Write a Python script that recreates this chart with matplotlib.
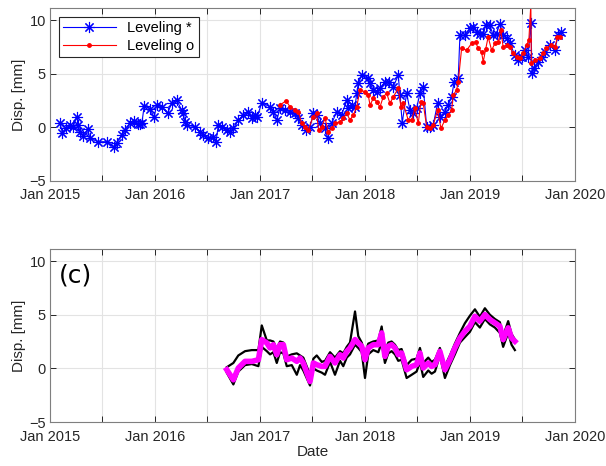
import datetime as dt

import matplotlib
matplotlib.use("Agg")
import matplotlib.dates as mdates
import matplotlib.pyplot as plt
from matplotlib.ticker import FuncFormatter

# leveling time series (decimal years, displacement in mm)
lev_star_t = [
    2015.095, 2015.117, 2015.152, 2015.190, 2015.219, 2015.254, 2015.270, 2015.286,
    2015.317, 2015.359, 2015.381, 2015.454, 2015.540, 2015.610, 2015.635, 2015.683,
    2015.714, 2015.762, 2015.803, 2015.838, 2015.857, 2015.876, 2015.898, 2015.952,
    2015.993, 2016.016, 2016.064, 2016.121, 2016.159, 2016.207, 2016.254, 2016.270,
    2016.286, 2016.302, 2016.381, 2016.429, 2016.460, 2016.508, 2016.555, 2016.581,
    2016.603, 2016.635, 2016.683, 2016.714, 2016.746, 2016.793, 2016.841, 2016.889,
    2016.921, 2016.952, 2016.974, 2017.016, 2017.095, 2017.127, 2017.159, 2017.190,
    2017.238, 2017.286, 2017.333, 2017.365, 2017.397, 2017.438, 2017.476, 2017.508,
    2017.540, 2017.571, 2017.619, 2017.645, 2017.683, 2017.730, 2017.778, 2017.826,
    2017.841, 2017.873, 2017.905, 2017.921, 2017.936, 2017.969, 2018.031, 2018.048,
    2018.079, 2018.111, 2018.143, 2018.190, 2018.229, 2018.270, 2018.317, 2018.333,
    2018.355, 2018.397, 2018.429, 2018.460, 2018.492, 2018.524, 2018.555, 2018.588,
    2018.619, 2018.650, 2018.692, 2018.714, 2018.762, 2018.793, 2018.826, 2018.850,
    2018.889, 2018.905, 2018.952, 2019.000, 2019.031, 2019.064, 2019.095, 2019.127,
    2019.152, 2019.190, 2019.222, 2019.254, 2019.286, 2019.317, 2019.350, 2019.381,
    2019.429, 2019.460, 2019.492, 2019.524, 2019.555, 2019.581, 2019.593, 2019.612,
    2019.650, 2019.683, 2019.714, 2019.762, 2019.810, 2019.841, 2019.873,
]
lev_star_d = [
    0.43, -0.50, -0.10, 0.20, 0.00, 1.00, 0.20, -0.40,
    -0.80, -0.20, -1.00, -1.35, -1.35, -1.86, -1.50, -0.70,
    -0.25, 0.37, 0.58, 0.30, 0.30, 0.40, 2.00, 1.75,
    0.93, 2.08, 1.90, 1.30, 2.24, 2.54, 1.60, 1.30,
    0.50, 0.20, 0.05, -0.40, -0.70, -1.00, -0.90, -1.34,
    0.20, 0.05, -0.25, -0.40, -0.10, 0.68, 1.15, 1.45,
    0.84, 1.15, 1.00, 2.30, 1.90, 1.45, 0.68, 1.77,
    1.60, 1.45, 1.30, 0.84, 0.20, -0.25, 0.05, 1.30,
    1.15, 0.37, -0.10, -1.03, 0.37, 1.45, 1.15, 2.54,
    1.77, 2.08, 1.90, 3.17, 4.10, 4.87, 4.57, 4.10,
    3.48, 3.32, 3.63, 4.25, 4.25, 3.78, 4.87, 3.00,
    0.43, 3.17, 1.60, 1.30, 1.77, 3.17, 3.78, 0.05,
    0.05, 0.20, 2.24, 1.00, 1.45, 2.08, 2.85, 4.25,
    4.57, 8.60, 8.60, 9.23, 9.38, 8.91, 8.76, 8.76,
    9.53, 9.53, 8.60, 8.76, 9.69, 8.60, 8.30, 7.83,
    6.74, 6.27, 6.58, 7.20, 6.58, 9.75, 5.03, 5.50,
    6.11, 6.58, 7.05, 7.67, 7.20, 8.60, 8.91,
]

lev_dot_t = [
    2017.190, 2017.248, 2017.286, 2017.333, 2017.365, 2017.397, 2017.429, 2017.460,
    2017.505, 2017.538, 2017.559, 2017.588, 2017.619, 2017.650, 2017.683, 2017.714,
    2017.762, 2017.793, 2017.826, 2017.857, 2017.889, 2017.921, 2017.952, 2018.000,
    2018.031, 2018.048, 2018.079, 2018.111, 2018.143, 2018.174, 2018.207, 2018.238,
    2018.270, 2018.317, 2018.343, 2018.365, 2018.412, 2018.445, 2018.476, 2018.508,
    2018.533, 2018.555, 2018.588, 2018.619, 2018.650, 2018.692, 2018.724, 2018.762,
    2018.793, 2018.826, 2018.841, 2018.873, 2018.889, 2018.921, 2018.969, 2019.016,
    2019.054, 2019.079, 2019.111, 2019.127, 2019.150, 2019.174, 2019.207, 2019.238,
    2019.270, 2019.295, 2019.317, 2019.350, 2019.381, 2019.412, 2019.445, 2019.476,
    2019.508, 2019.540, 2019.562, 2019.581, 2019.586, 2019.619, 2019.667, 2019.698,
    2019.730, 2019.771, 2019.810, 2019.835, 2019.857,
]
lev_dot_d = [
    2.08, 2.48, 1.90, 1.60, 1.45, 0.37, 0.05, -0.25,
    1.00, 1.30, -0.30, 0.05, 0.84, -0.40, -0.10, 0.37,
    0.52, 0.84, 1.30, 0.68, 1.15, 1.90, 3.48, 3.32,
    3.00, 2.08, 2.70, 2.39, 1.90, 2.85, 3.17, 2.24,
    2.85, 3.63, 1.90, 2.24, 0.68, 0.68, 1.77, 0.37,
    2.39, 2.24, 0.05, -0.10, 0.20, 1.60, -0.10, 0.68,
    1.15, 1.60, 3.00, 3.48, 4.25, 7.36, 7.20, 7.83,
    7.98, 7.36, 7.05, 6.11, 7.27, 8.44, 7.20, 7.83,
    7.98, 9.07, 7.51, 7.67, 7.51, 6.90, 6.58, 6.43,
    6.90, 7.67, 8.14, 11.50, 5.97, 6.27, 6.43, 6.90,
    7.36, 7.67, 7.51, 8.39, 8.44,
]

# InSAR panel: mean series plus the spread of the individual solutions
insar_t = [
    2016.683, 2016.746, 2016.793, 2016.857, 2016.921, 2016.984, 2017.016, 2017.064,
    2017.095, 2017.127, 2017.159, 2017.190, 2017.222, 2017.254, 2017.302, 2017.350,
    2017.381, 2017.412, 2017.476, 2017.508, 2017.540, 2017.588, 2017.619, 2017.667,
    2017.714, 2017.762, 2017.793, 2017.826, 2017.857, 2017.905, 2017.936, 2017.969,
    2018.000, 2018.031, 2018.079, 2018.127, 2018.159, 2018.190, 2018.222, 2018.254,
    2018.286, 2018.317, 2018.349, 2018.397, 2018.445, 2018.492, 2018.524, 2018.555,
    2018.603, 2018.635, 2018.667, 2018.714, 2018.762, 2018.810, 2018.857, 2018.905,
    2018.952, 2019.000, 2019.048, 2019.095, 2019.143, 2019.190, 2019.238, 2019.286,
    2019.317, 2019.365, 2019.397, 2019.429,
]
insar_mean = [
    -0.13, -1.07, 0.03, 0.65, 0.65, 0.80, 2.68, 2.37,
    1.90, 2.20, 1.27, 2.20, 2.20, 0.80, 0.96, 0.65,
    0.96, 0.50, -1.22, 0.50, 0.34, 0.18, 0.18, 1.11,
    0.50, 1.27, 0.96, 1.58, 1.90, 2.68, 2.37, 2.05,
    0.80, 1.90, 2.20, 2.20, 3.30, 1.11, 2.05, 2.20,
    1.90, 1.27, 1.43, -0.13, 0.18, 0.34, 1.43, 0.03,
    0.50, 0.18, 0.34, 1.58, -0.13, 0.80, 1.90, 2.83,
    3.45, 3.92, 4.85, 4.39, 5.01, 4.55, 4.24, 3.92,
    2.68, 3.77, 2.83, 2.52,
]
insar_hi = [
    0.10, 0.50, 1.20, 1.60, 1.70, 1.70, 4.00, 2.60,
    2.60, 2.50, 1.80, 2.50, 2.40, 1.10, 1.30, 1.40,
    1.20, 1.00, -0.60, 0.90, 1.20, 0.60, 0.70, 1.50,
    1.00, 1.60, 1.40, 2.00, 2.40, 5.30, 3.00, 2.40,
    1.30, 2.30, 2.50, 2.60, 3.90, 1.60, 2.40, 2.50,
    2.20, 1.70, 1.80, 0.30, 0.80, 0.90, 1.90, 0.50,
    1.00, 0.60, 0.80, 1.90, 0.20, 1.20, 2.30, 3.30,
    4.20, 4.90, 5.50, 4.80, 5.60, 5.00, 4.60, 4.30,
    3.00, 4.40, 3.20, 2.70,
]
insar_lo = [
    -0.40, -1.50, -0.30, 0.30, 0.40, 0.20, 2.00, 1.60,
    1.30, 1.50, 0.50, 1.50, 1.40, 0.20, 0.30, -0.60,
    0.30, -0.20, -1.60, 0.00, -0.20, -0.40, -0.60, 0.60,
    -0.60, 0.70, 0.20, 1.00, 1.30, 2.20, 1.90, 1.50,
    -0.90, 1.30, 1.70, 1.50, 2.40, 0.50, 1.40, 1.60,
    1.30, 0.70, 0.80, -0.90, -0.60, -0.30, 0.60, -0.80,
    -0.20, -0.50, -0.30, 1.20, -0.90, 0.30, 1.30, 2.40,
    2.90, 3.40, 4.30, 3.80, 4.60, 4.10, 3.80, 3.30,
    2.00, 3.30, 2.20, 1.70,
]

AX_COLOR = "#262626"
GRID_COLOR = "#e3e3e3"
plt.rcParams["font.family"] = ["Liberation Sans", "DejaVu Sans"]


def to_dates(years):
    out = []
    for y in years:
        start = dt.datetime(int(y), 1, 1)
        span = dt.datetime(int(y) + 1, 1, 1) - start
        out.append(start + (y - int(y)) * span)
    return out


def style_axes(ax):
    ax.set_xlim(dt.datetime(2015, 1, 1), dt.datetime(2020, 1, 1))
    ax.set_ylim(-5, 11.15)
    ax.set_yticks([-5, 0, 5, 10])
    ax.xaxis.set_major_locator(mdates.MonthLocator(bymonth=[1, 7]))
    ax.xaxis.set_major_formatter(FuncFormatter(
        lambda v, pos: mdates.num2date(v).strftime("Jan %Y")
        if mdates.num2date(v).month == 1 else ""))
    ax.grid(True, color=GRID_COLOR, linewidth=0.8)
    ax.set_axisbelow(True)
    ax.tick_params(direction="in", top=True, right=True, length=4,
                   width=0.7, colors=AX_COLOR, labelsize=10.5, pad=3)
    ax.tick_params(axis="x", pad=5.5)
    for s in ax.spines.values():
        s.set_color("#7f7f7f")
        s.set_linewidth(0.8)
    ax.set_ylabel("Disp. [mm]", fontsize=11, color=AX_COLOR, labelpad=2)


fig = plt.figure(figsize=(6.06, 4.66), dpi=100)
ax1 = fig.add_axes([0.0825, 0.612, 0.866, 0.371])
ax2 = fig.add_axes([0.0825, 0.0944, 0.866, 0.372])

ax1.plot(to_dates(lev_star_t), lev_star_d, color="blue", linewidth=0.8,
         marker=(8, 2, 0), markersize=8, markeredgewidth=0.8,
         label="Leveling *")
ax1.plot(to_dates(lev_dot_t), lev_dot_d, color="red", linewidth=0.8,
         marker=".", markersize=5, label="Leveling o")
style_axes(ax1)
leg = ax1.legend(loc="upper left", fontsize=10.5, fancybox=False,
                 framealpha=1, edgecolor="#262626", borderaxespad=0.6,
                 handlelength=3.6, labelspacing=0.25, borderpad=0.3)
leg.get_frame().set_linewidth(0.8)

insar_dates = to_dates(insar_t)
for series in (insar_hi, insar_lo):
    ax2.plot(insar_dates, series, color="black", linewidth=1.6)
ax2.plot(insar_dates, insar_mean, color="magenta", linewidth=4)
style_axes(ax2)
ax2.set_xlabel("Date", fontsize=11, color=AX_COLOR, labelpad=1)
ax2.text(0.016, 0.915, "(c)", transform=ax2.transAxes, fontsize=18,
         family="DejaVu Sans", va="top", ha="left", color="black")

fig.savefig("out.png", dpi=100)
